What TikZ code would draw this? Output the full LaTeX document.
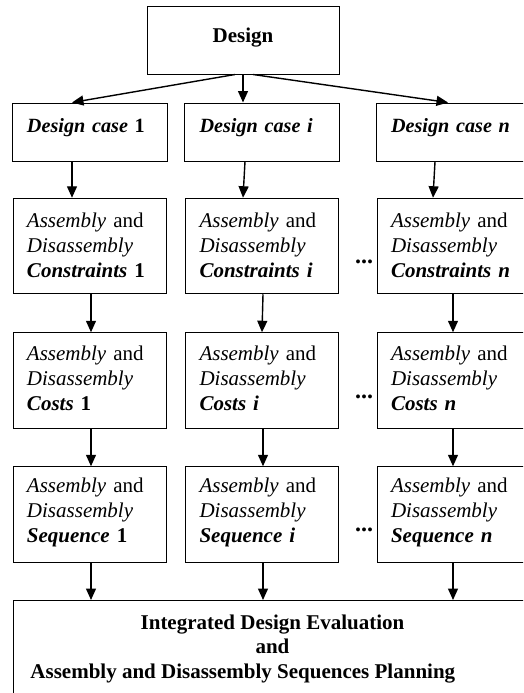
\documentclass[tikz,border=0pt]{standalone}
\usepackage{fontspec}
\setmainfont{Liberation Serif}
\usetikzlibrary{arrows.meta,calc}
\newcommand{\adtext}{\textit{Assembly} and\\\textit{Disassembly}\\}
\begin{document}
\begin{tikzpicture}[x=1pt,y=-1pt,
  box/.style={draw,line width=1pt,rectangle,minimum width=153pt,text width=125pt,inner xsep=14pt,align=left,font=\fontsize{21}{25}\selectfont},
  casebox/.style={box,minimum height=58pt,text depth=13pt,inner xsep=15pt,font=\fontsize{20.2}{25}\selectfont},
  rowbox/.style={box,minimum height=95.5pt},
  arr/.style={line width=1.4pt,-{Triangle[width=10pt,length=11.5pt]}},
  dotsnode/.style={font=\fontsize{24}{25}\selectfont\bfseries,inner sep=0pt}]
\useasboundingbox (0,0) rectangle (523,693);
\clip (0,0) rectangle (523,693);

\node[draw,line width=1pt,minimum width=192pt,minimum height=67pt,text depth=10pt,font=\fontsize{21}{25}\selectfont\bfseries] (design) at (243,40.5) {Design};

\node[casebox] (c1) at (89.5,132) {\textbf{\textit{Design case} 1}};
\node[casebox] (c2) at (262,132) {\textbf{\textit{Design case i}}};
\node[casebox] (c3) at (453.5,132) {\textbf{\textit{Design case n}}};

\node[rowbox,text depth=52pt] (a1) at (89.5,246) {\adtext\textbf{\textit{Constraints} 1}};
\node[rowbox,text depth=52pt] (a2) at (262,246) {\adtext\textbf{\textit{Constraints i}}};
\node[rowbox,text depth=52pt] (a3) at (453.5,246) {\adtext\textbf{\textit{Constraints n}}};

\node[rowbox,text depth=54pt] (b1) at (89.5,380.5) {\adtext\textbf{\textit{Costs} 1}};
\node[rowbox,text depth=54pt] (b2) at (262,380.5) {\adtext\textbf{\textit{Costs i}}};
\node[rowbox,text depth=54pt] (b3) at (453.5,380.5) {\adtext\textbf{\textit{Costs n}}};

\node[rowbox,text depth=58pt] (s1) at (89.5,514.5) {\adtext\textbf{\textit{Sequence} 1}};
\node[rowbox,text depth=58pt] (s2) at (262,514.5) {\adtext\textbf{\textit{Sequence i}}};
\node[rowbox,text depth=58pt] (s3) at (453.5,514.5) {\adtext\textbf{\textit{Sequence n}}};

\node[dotsnode] (dA) at (364,262) {...};
\node[dotsnode] (dB) at (364,397) {...};
\node[dotsnode] (dC) at (364,530) {...};

\node[draw,line width=1pt,anchor=north west,minimum width=518pt,inner ysep=14pt,align=center,text depth=10pt,font=\fontsize{21}{24.5}\selectfont\bfseries] (eval) at (13,600)
  {Integrated Design Evaluation\\and\\\makebox[484pt][l]{Assembly and Disassembly Sequences Planning}};

\draw[arr] ($(design.south)+(-8,0)$) -- ($(c1.north)+(-17.5,0)$);
\draw[arr] (design.south) -- (c2.north -| design.south);
\draw[arr] ($(design.south)+(10,0)$) -- ($(c3.north)+(-5.5,0)$);

\draw[arr] ($(c1.south)+(-17.5,0)$) -- ($(a1.north)+(-17.5,0)$);
\draw[arr] ($(c2.south)+(-17,0)$) -- ($(a2.north)+(-19,0)$);
\draw[arr] ($(c3.south)+(-18.5,0)$) -- ($(a3.north)+(-20.5,0)$);

\draw[arr] ($(a1.south)+(1.5,0)$) -- ($(b1.north)+(1.5,0)$);
\draw[arr] ($(a2.south)+(1,0)$) -- (b2.north);
\draw[arr] ($(a3.south)+(-0.5,0)$) -- ($(b3.north)+(-0.5,0)$);

\draw[arr] ($(b1.south)+(1.5,0)$) -- ($(s1.north)+(1.5,0)$);
\draw[arr] ($(b2.south)+(1,0)$) -- ($(s2.north)+(1,0)$);
\draw[arr] ($(b3.south)+(-0.5,0)$) -- ($(s3.north)+(-0.5,0)$);

\draw[arr] ($(s1.south)+(1.5,0)$) coordinate (t1) -- (t1 |- eval.north);
\draw[arr] ($(s2.south)+(1,0)$) coordinate (t2) -- (t2 |- eval.north);
\draw[arr] ($(s3.south)+(-0.5,0)$) coordinate (t3) -- (t3 |- eval.north);
\end{tikzpicture}
\end{document}
